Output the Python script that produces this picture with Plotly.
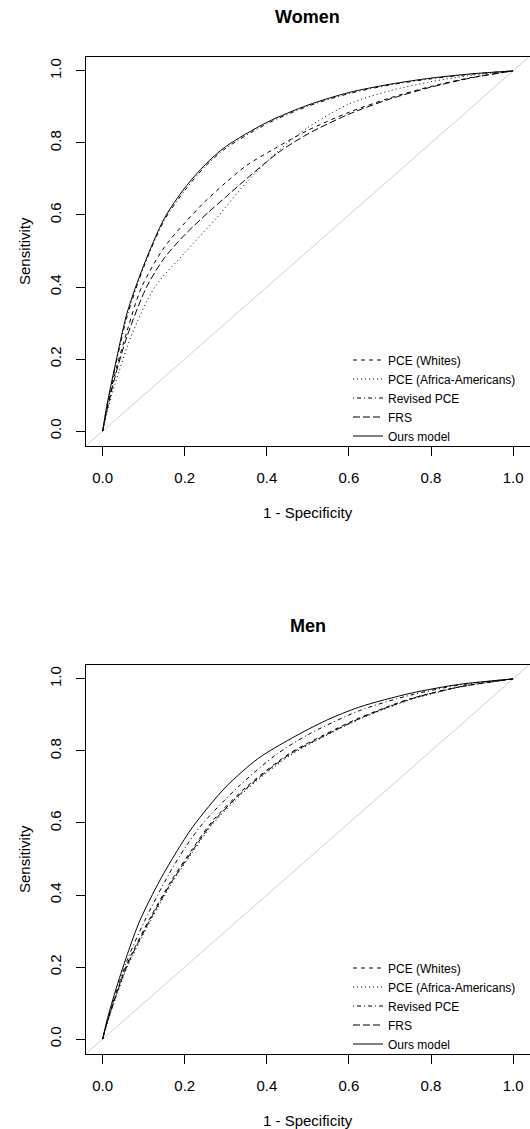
import plotly.graph_objects as go

# ---------------------------------------------------------------------------
# Data: ROC curves (1 - specificity, sensitivity) for each risk model
# ---------------------------------------------------------------------------
MODELS = ["PCE (Whites)", "PCE (Africa-Americans)", "Revised PCE", "FRS", "Ours model"]
PANELS = ["Women", "Men"]
TICKS = [0.0, 0.2, 0.4, 0.6, 0.8, 1.0]
AXIS_RANGE = [-0.04, 1.04]

# Women
W_PCE_WHITE_X = [0, 0.01, 0.03, 0.06, 0.095, 0.15, 0.2, 0.25, 0.3, 0.35, 0.42, 0.5, 0.6, 0.7, 0.8, 0.9, 1.0]
W_PCE_WHITE_Y = [0, 0.06, 0.16, 0.28, 0.40, 0.51, 0.578, 0.638, 0.69, 0.737, 0.785, 0.835, 0.885, 0.925, 0.957, 0.982, 1.0]

W_PCE_AA_X = [0, 0.01, 0.03, 0.07, 0.127, 0.2, 0.28, 0.35, 0.43, 0.5, 0.6, 0.7, 0.8, 0.9, 1.0]
W_PCE_AA_Y = [0, 0.05, 0.13, 0.265, 0.40, 0.495, 0.595, 0.69, 0.78, 0.843, 0.908, 0.945, 0.97, 0.988, 1.0]

W_REV_PCE_X = [0, 0.01, 0.03, 0.06, 0.1, 0.15, 0.2, 0.25, 0.3, 0.4, 0.5, 0.6, 0.7, 0.8, 0.9, 1.0]
W_REV_PCE_Y = [0, 0.065, 0.175, 0.32, 0.455, 0.585, 0.668, 0.735, 0.785, 0.853, 0.902, 0.937, 0.961, 0.978, 0.991, 1.0]

W_FRS_X = [0, 0.01, 0.03, 0.06, 0.107, 0.15, 0.2, 0.26, 0.3, 0.35, 0.43, 0.5, 0.6, 0.7, 0.8, 0.9, 1.0]
W_FRS_Y = [0, 0.055, 0.15, 0.265, 0.40, 0.48, 0.545, 0.61, 0.65, 0.70, 0.775, 0.825, 0.88, 0.922, 0.955, 0.981, 1.0]

W_OURS_X = [0, 0.01, 0.03, 0.06, 0.1, 0.15, 0.2, 0.25, 0.3, 0.4, 0.5, 0.6, 0.7, 0.8, 0.9, 1.0]
W_OURS_Y = [0, 0.07, 0.18, 0.33, 0.46, 0.59, 0.675, 0.74, 0.79, 0.857, 0.905, 0.94, 0.963, 0.98, 0.992, 1.0]

# Men
M_PCE_WHITE_X = [0, 0.01, 0.03, 0.06, 0.115, 0.17, 0.22, 0.267, 0.35, 0.455, 0.54, 0.626, 0.75, 0.87, 1.0]
M_PCE_WHITE_Y = [0, 0.043, 0.115, 0.21, 0.335, 0.445, 0.53, 0.605, 0.70, 0.793, 0.845, 0.892, 0.945, 0.978, 1.0]

M_PCE_AA_X = [0, 0.01, 0.03, 0.06, 0.115, 0.17, 0.22, 0.267, 0.35, 0.455, 0.54, 0.626, 0.75, 0.87, 1.0]
M_PCE_AA_Y = [0, 0.04, 0.108, 0.2, 0.325, 0.435, 0.52, 0.595, 0.692, 0.786, 0.84, 0.888, 0.942, 0.977, 1.0]

M_REV_PCE_X = [0, 0.01, 0.03, 0.06, 0.103, 0.16, 0.2, 0.245, 0.33, 0.423, 0.5, 0.626, 0.75, 0.87, 1.0]
M_REV_PCE_Y = [0, 0.045, 0.12, 0.22, 0.33, 0.455, 0.53, 0.60, 0.70, 0.79, 0.845, 0.912, 0.955, 0.983, 1.0]

M_FRS_X = [0, 0.01, 0.03, 0.06, 0.115, 0.17, 0.22, 0.267, 0.35, 0.455, 0.54, 0.626, 0.75, 0.87, 1.0]
M_FRS_Y = [0, 0.042, 0.112, 0.205, 0.33, 0.44, 0.525, 0.60, 0.696, 0.79, 0.842, 0.89, 0.944, 0.978, 1.0]

M_OURS_X = [0, 0.01, 0.03, 0.06, 0.091, 0.139, 0.18, 0.22, 0.3, 0.38, 0.46, 0.545, 0.626, 0.75, 0.87, 1.0]
M_OURS_Y = [0, 0.05, 0.13, 0.235, 0.33, 0.44, 0.52, 0.59, 0.70, 0.78, 0.835, 0.885, 0.922, 0.96, 0.985, 1.0]

CURVES = {
    "Women": [(W_PCE_WHITE_X, W_PCE_WHITE_Y), (W_PCE_AA_X, W_PCE_AA_Y),
              (W_REV_PCE_X, W_REV_PCE_Y), (W_FRS_X, W_FRS_Y), (W_OURS_X, W_OURS_Y)],
    "Men": [(M_PCE_WHITE_X, M_PCE_WHITE_Y), (M_PCE_AA_X, M_PCE_AA_Y),
            (M_REV_PCE_X, M_REV_PCE_Y), (M_FRS_X, M_FRS_Y), (M_OURS_X, M_OURS_Y)],
}

# ---------------------------------------------------------------------------
# Styling (base-graphics look: thin black lines with lty patterns)
# ---------------------------------------------------------------------------
W, H = 530, 1129
FONT = "Liberation Sans, Arial, Helvetica, sans-serif"
DASHES = ["4px,4px", "1px,3px", "1px,3px,4px,3px", "7px,3px", "solid"]

# pixel geometry of the two plot frames
FRAME_LEFT, FRAME_RIGHT = 86.25, 529.5
FRAME_TB = {"Women": (56.5, 445.5), "Men": (664.5, 1053.5)}


def fx(px):
    return px / W


def fy(px):
    return 1 - px / H


fig = go.Figure()

for i, panel in enumerate(PANELS):
    xa = "x" if i == 0 else "x2"
    ya = "y" if i == 0 else "y2"
    leg = "legend" if i == 0 else "legend2"
    # chance line across the whole plotting region
    fig.add_trace(go.Scatter(
        x=AXIS_RANGE, y=AXIS_RANGE, mode="lines", xaxis=xa, yaxis=ya,
        line=dict(color="#cfcfcf", width=1), showlegend=False, hoverinfo="skip"))
    for name, (cx, cy), dash in zip(MODELS, CURVES[panel], DASHES):
        fig.add_trace(go.Scatter(
            x=cx, y=cy, mode="lines", name=name, xaxis=xa, yaxis=ya, legend=leg,
            line=dict(color="black", width=1, dash=dash, shape="spline", smoothing=0.8)))

axis_common = dict(
    range=AXIS_RANGE, tickvals=TICKS, ticktext=[f"{t:.1f}" for t in TICKS],
    ticks="outside", ticklen=9, tickwidth=1, tickcolor="black",
    showline=True, linecolor="black", linewidth=1, mirror=True,
    showgrid=False, zeroline=False, fixedrange=True,
    tickfont=dict(family=FONT, size=15, color="black"),
)

layout = dict(
    width=W, height=H,
    margin=dict(l=0, r=0, t=0, b=0),
    paper_bgcolor="white", plot_bgcolor="white",
    font=dict(family=FONT, color="black"),
    annotations=[],
)

for i, panel in enumerate(PANELS):
    top, bottom = FRAME_TB[panel]
    sx = "" if i == 0 else "2"
    layout["xaxis" + sx] = dict(axis_common, domain=[fx(FRAME_LEFT), fx(FRAME_RIGHT)],
                                anchor="y" + sx, ticklabelstandoff=9)
    layout["yaxis" + sx] = dict(axis_common, domain=[fy(bottom), fy(top)],
                                anchor="x" + sx, tickangle=-90, ticklabelstandoff=9)
    legend_top = bottom - 100
    layout["legend" if i == 0 else "legend2"] = dict(
        x=fx(348), y=fy(legend_top), xanchor="left", yanchor="top",
        bgcolor="rgba(0,0,0,0)", borderwidth=0,
        font=dict(family=FONT, size=12, color="black"))
    mid_x = fx((FRAME_LEFT + FRAME_RIGHT) / 2)
    layout["annotations"] += [
        dict(text=f"<b>{panel}</b>", x=mid_x, y=fy(top - 39), xref="paper", yref="paper",
             showarrow=False, xanchor="center", yanchor="middle",
             font=dict(family=FONT, size=18, color="black")),
        dict(text="1 - Specificity", x=mid_x, y=fy(bottom + 67), xref="paper", yref="paper",
             showarrow=False, xanchor="center", yanchor="middle",
             font=dict(family=FONT, size=15, color="black")),
        dict(text="Sensitivity", x=fx(24), y=fy((top + bottom) / 2), xref="paper", yref="paper",
             showarrow=False, xanchor="center", yanchor="middle", textangle=-90,
             font=dict(family=FONT, size=15, color="black")),
    ]

fig.update_layout(**layout)
fig.write_html("out.html")
